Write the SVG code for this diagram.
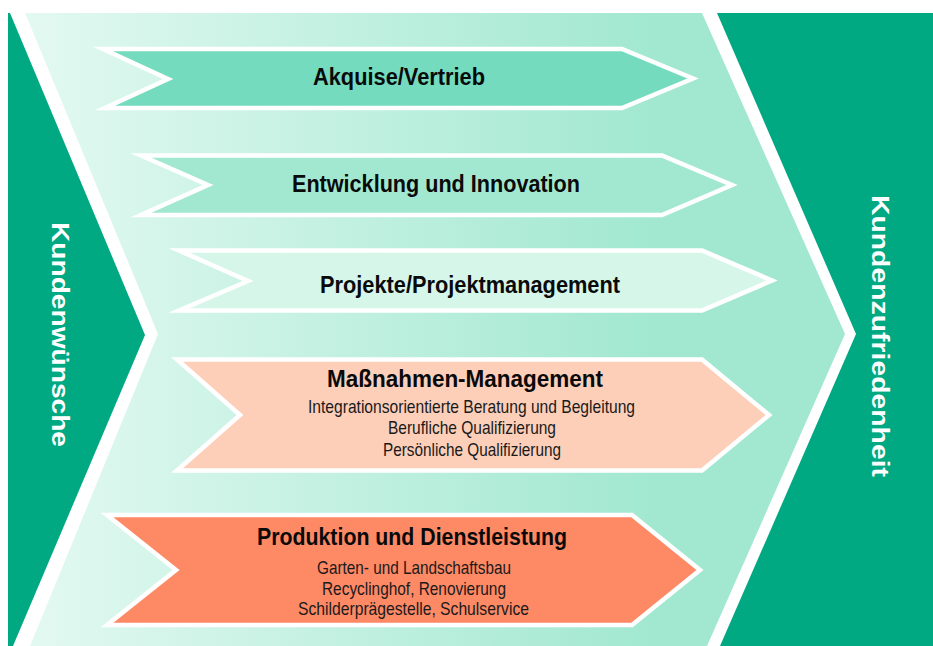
<svg xmlns="http://www.w3.org/2000/svg" width="933" height="646" viewBox="0 0 933 646">
  <defs>
    <linearGradient id="flowGrad" gradientUnits="userSpaceOnUse" x1="25" y1="0" x2="650" y2="0">
      <stop offset="0" stop-color="#e3f9f1"/>
      <stop offset="1" stop-color="#a2e8d1"/>
    </linearGradient>
    <style>
      .edge { fill: #00a982; }
      .band { stroke: #ffffff; stroke-width: 4.5; stroke-linejoin: miter; stroke-miterlimit: 10; }
      .title { font-family: "Liberation Sans Narrow", "Liberation Sans", Arial, sans-serif; font-weight: bold; fill: #0a0a0a; text-anchor: middle; }
      .sub { font-family: "Liberation Sans Narrow", "Liberation Sans", Arial, sans-serif; font-size: 18.5px; fill: #1a1a1a; text-anchor: middle; }
      .side { font-family: "Liberation Sans", Arial, sans-serif; font-weight: bold; font-size: 24px; fill: #ffffff; text-anchor: middle; }
    </style>
  </defs>

  <rect x="0" y="0" width="933" height="646" fill="#ffffff"/>

  <!-- main flow chevron -->
  <polygon id="flow" points="25,13 702,13 845,334 707,646 30,646 158,334" fill="url(#flowGrad)"/>

  <!-- left input block -->
  <g id="kundenwuensche">
    <polygon class="edge" points="8,13 10,13 145,335 13,646 8,646"/>
    <text class="side" transform="translate(52,334.5) rotate(90)" textLength="225" lengthAdjust="spacingAndGlyphs">Kundenwünsche</text>
  </g>

  <!-- right output block -->
  <g id="kundenzufriedenheit">
    <polygon class="edge" points="717,13 933,13 933,646 720,646 856,334"/>
    <text class="side" transform="translate(872,336) rotate(90)" textLength="282" lengthAdjust="spacingAndGlyphs">Kundenzufriedenheit</text>
  </g>

  <!-- process bands -->
  <g id="akquise">
    <polygon class="band" fill="#74dbbe" points="103,49 622,49 693,78.5 622,108 105,108 168,79"/>
    <text class="title" x="399" y="85" font-size="23" textLength="172" lengthAdjust="spacingAndGlyphs">Akquise/Vertrieb</text>
  </g>

  <g id="entwicklung">
    <polygon class="band" fill="#a2e8d0" points="141,155.5 662,155.5 732,185 662,215 141,215 208,185"/>
    <text class="title" x="436" y="192" font-size="23" textLength="288" lengthAdjust="spacingAndGlyphs">Entwicklung und Innovation</text>
  </g>

  <g id="projekte">
    <polygon class="band" fill="#d6f6ea" points="179,250.5 702,250.5 772,280.5 702,310.5 179,310.5 248,281"/>
    <text class="title" x="470" y="293" font-size="24" textLength="300" lengthAdjust="spacingAndGlyphs">Projekte/Projektmanagement</text>
  </g>

  <g id="massnahmen">
    <polygon class="band" fill="#fdcfb9" points="177,359.5 702,359.5 769,415 702,470.5 177,470.5 240,415"/>
    <text class="title" x="465" y="387" font-size="23" textLength="276" lengthAdjust="spacingAndGlyphs">Maßnahmen-Management</text>
    <text class="sub" x="471.5" y="413" textLength="327" lengthAdjust="spacingAndGlyphs">Integrationsorientierte Beratung und Begleitung</text>
    <text class="sub" x="472" y="434" textLength="168" lengthAdjust="spacingAndGlyphs">Berufliche Qualifizierung</text>
    <text class="sub" x="472" y="456" textLength="178" lengthAdjust="spacingAndGlyphs">Persönliche Qualifizierung</text>
  </g>

  <g id="produktion">
    <polygon class="band" fill="#fe8965" points="107,515 632,515 700,570 632,625 107,625 176,570"/>
    <text class="title" x="412" y="545" font-size="24" textLength="310" lengthAdjust="spacingAndGlyphs">Produktion und Dienstleistung</text>
    <text class="sub" x="414" y="574" textLength="194" lengthAdjust="spacingAndGlyphs">Garten- und Landschaftsbau</text>
    <text class="sub" x="414" y="595" textLength="184" lengthAdjust="spacingAndGlyphs">Recyclinghof, Renovierung</text>
    <text class="sub" x="413.5" y="615" textLength="231" lengthAdjust="spacingAndGlyphs">Schilderprägestelle, Schulservice</text>
  </g>

  <!-- no connectors: the flow is expressed by the band shapes -->
  <g id="connectors"/>
</svg>
